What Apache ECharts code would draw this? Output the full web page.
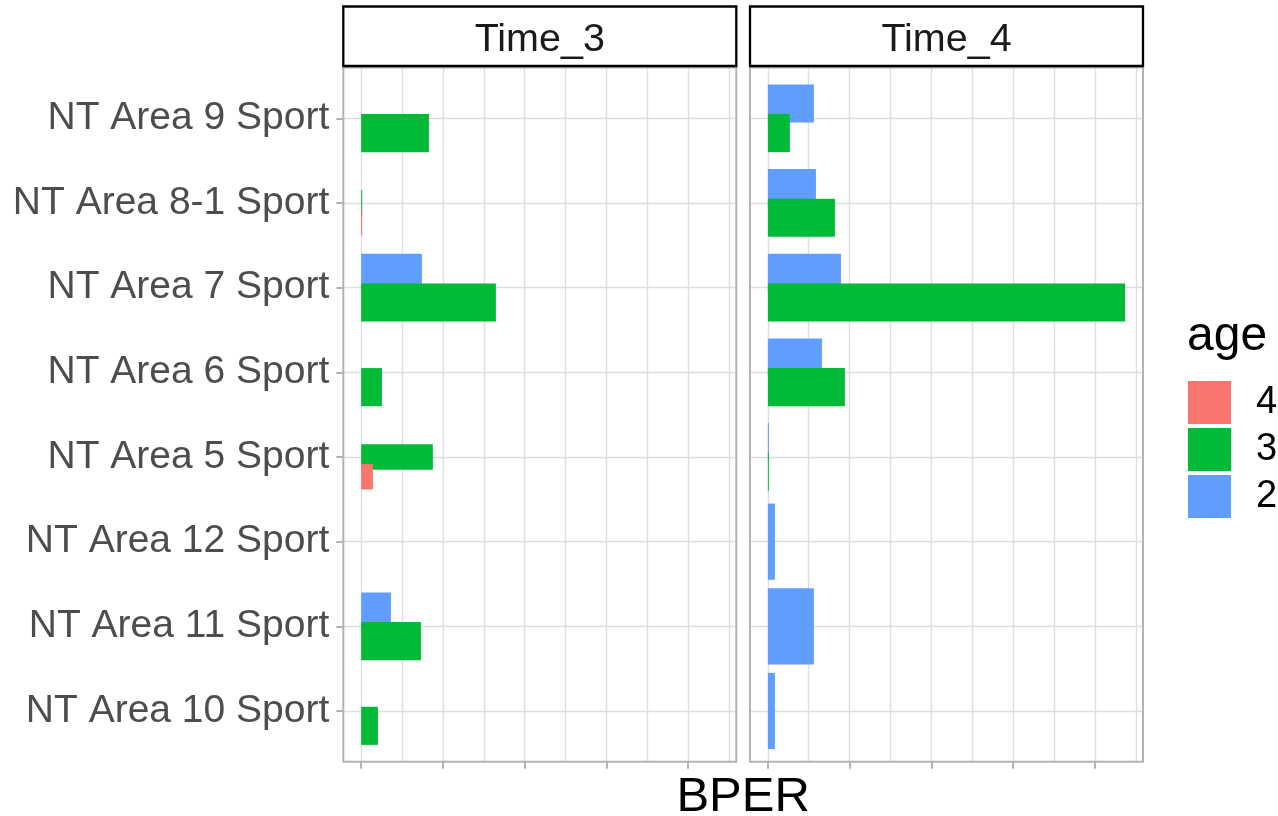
<!DOCTYPE html>
<html><head><meta charset="utf-8">
<script src="https://cdn.jsdelivr.net/npm/echarts@6/dist/echarts.min.js"></script>
<style>html,body{margin:0;padding:0;background:#fff}#c{width:1278px;height:816px}</style>
</head><body><div id="c"></div>
<script>
// ---------- data ----------
const categories = ['NT Area 9 Sport','NT Area 8-1 Sport','NT Area 7 Sport','NT Area 6 Sport','NT Area 5 Sport','NT Area 12 Sport','NT Area 11 Sport','NT Area 10 Sport'];
const facets = ['Time_3','Time_4'];
const ageLevels = ['4','3','2'];            // legend order
const ageColors = {'4':'#F8766D','3':'#00BA38','2':'#619CFF'};
const xTitle = 'BPER';
const legendTitle = 'age';
const xMajorTicks = [0,1,2,3,4];

// Time_3 (null = group absent in that category)
const time3Age4 = [null, 0.012, null, null, 0.144, null, null, null];
const time3Age3 = [0.829, 0.012, 1.648, 0.254, 0.877, null, 0.731, 0.205];
const time3Age2 = [0, 0, 0.743, 0, 0, null, 0.364, 0];
// Time_4
const time4Age4 = [null, null, null, null, null, null, null, null];
const time4Age3 = [0.269, 0.820, 4.370, 0.942, 0.012, null, null, null];
const time4Age2 = [0.563, 0.588, 0.894, 0.661, 0.012, 0.086, 0.563, 0.086];

const facetData = [
  {'4': time3Age4, '3': time3Age3, '2': time3Age2},
  {'4': time4Age4, '3': time4Age3, '2': time4Age2}
];

// ---------- layout ----------
const FONT = 'Liberation Sans, Arial, Helvetica, sans-serif';
const panels = [{left:343.3, width:393}, {left:750, width:393}];
const panelTop = 67.5, panelHeight = 694.3;
const stripTop = 6.5, stripHeight = 59.5;
const DODGE = 0.7, BARW = 0.9;
const dodgeOrder = ['2','3','4'];  // slot order (top to bottom) & draw order

let maxVal = 0;
facetData.forEach(fd => ageLevels.forEach(a => fd[a].forEach(v => { if (v != null && v > maxVal) maxVal = v; })));
const xMin = -0.05 * maxVal, xMax = 1.05 * maxVal;

const grids = [], xAxes = [], yAxes = [], series = [];
const catIdx = categories.map((c, i) => i);

panels.forEach((p, f) => {
  grids.push({left: p.left, top: panelTop, width: p.width, height: panelHeight, show: false});
  xAxes.push({
    type: 'value', gridIndex: f, min: xMin, max: xMax, splitNumber: 5, position: 'bottom',
    axisLine: {show: false, onZero: false},
    axisLabel: {show: false},
    axisTick: {show: true, length: 7, customValues: xMajorTicks, lineStyle: {color: '#B3B3B3', width: 2}},
    splitLine: {show: true, lineStyle: {color: '#DEDEDE', width: 1.4}},
    minorTick: {show: false, splitNumber: 2},
    minorSplitLine: {show: true, lineStyle: {color: '#DEDEDE', width: 1.4}}
  });
  yAxes.push({
    type: 'value', gridIndex: f, inverse: true, min: -0.6, max: categories.length - 1 + 0.6, position: 'left',
    axisLine: {show: false, onZero: false},
    axisTick: {show: f === 0, length: 7, customValues: catIdx, lineStyle: {color: '#B3B3B3', width: 2}},
    axisLabel: {show: f === 0, customValues: catIdx, margin: 14, fontSize: 39, color: '#4D4D4D', fontFamily: FONT,
      padding: [7, 0, 0, 0],
      formatter: v => categories[Math.round(v)] || ''},
    splitLine: {show: true, lineStyle: {color: '#DEDEDE', width: 1.4}}
  });

  const fd = facetData[f];
  dodgeOrder.forEach(age => {
    const data = [];
    categories.forEach((c, i) => {
      const present = dodgeOrder.filter(a => fd[a][i] != null);
      const v = fd[age][i];
      if (v == null) return;
      data.push([v, i, present.length, present.indexOf(age)]);
    });
    series.push({
      type: 'custom', name: age, xAxisIndex: f, yAxisIndex: f,
      itemStyle: {color: ageColors[age]},
      encode: {x: 0, y: 1},
      silent: true,
      data: data,
      renderItem: function (params, api) {
        const v = api.value(0), c = api.value(1), n = api.value(2), s = api.value(3);
        const center = c + (s - (n - 1) / 2) * (DODGE / n);
        const half = BARW / (2 * n);
        const p0 = api.coord([0, center - half]);
        const p1 = api.coord([v, center + half]);
        return {type: 'rect',
          shape: {x: p0[0], y: Math.min(p0[1], p1[1]), width: p1[0] - p0[0], height: Math.abs(p1[1] - p0[1])},
          style: {fill: api.visual('color')}};
      }
    });
  });
});

const graphics = [];
panels.forEach((p, f) => {
  graphics.push({type: 'rect', z: 100, shape: {x: p.left, y: panelTop, width: p.width, height: panelHeight},
    style: {fill: 'none', stroke: '#B3B3B3', lineWidth: 2}, silent: true});
  graphics.push({type: 'rect', z: 100, shape: {x: p.left, y: stripTop, width: p.width, height: stripHeight},
    style: {fill: '#FFFFFF', stroke: '#000000', lineWidth: 2.3}, silent: true});
  graphics.push({type: 'text', z: 101, x: p.left + p.width / 2, y: 40.5,
    style: {text: facets[f], fontSize: 39.5, fontFamily: FONT, fill: '#1A1A1A', textAlign: 'center', textVerticalAlign: 'middle'}, silent: true});
});
graphics.push({type: 'text', z: 101, x: (panels[0].left + panels[1].left + panels[1].width) / 2, y: 797,
  style: {text: xTitle, fontSize: 49, fontFamily: FONT, fill: '#000', textAlign: 'center', textVerticalAlign: 'middle'}, silent: true});
graphics.push({type: 'text', z: 101, x: 1187, y: 337,
  style: {text: legendTitle, fontSize: 48, fontFamily: FONT, fill: '#000', textAlign: 'left', textVerticalAlign: 'middle'}, silent: true});

const chart = echarts.init(document.getElementById('c'), null, {renderer: 'canvas'});
chart.setOption({
  animation: false,
  backgroundColor: '#FFFFFF',
  grid: grids, xAxis: xAxes, yAxis: yAxes, series: series,
  legend: {
    data: ageLevels, orient: 'vertical', left: 1188, top: 381, padding: 0,
    itemWidth: 43, itemHeight: 43, itemGap: 4, icon: 'rect', selectedMode: false,
    textStyle: {fontSize: 38, fontFamily: FONT, color: '#000', padding: [0, 0, 0, 20]}
  },
  graphic: graphics
});
</script></body></html>
